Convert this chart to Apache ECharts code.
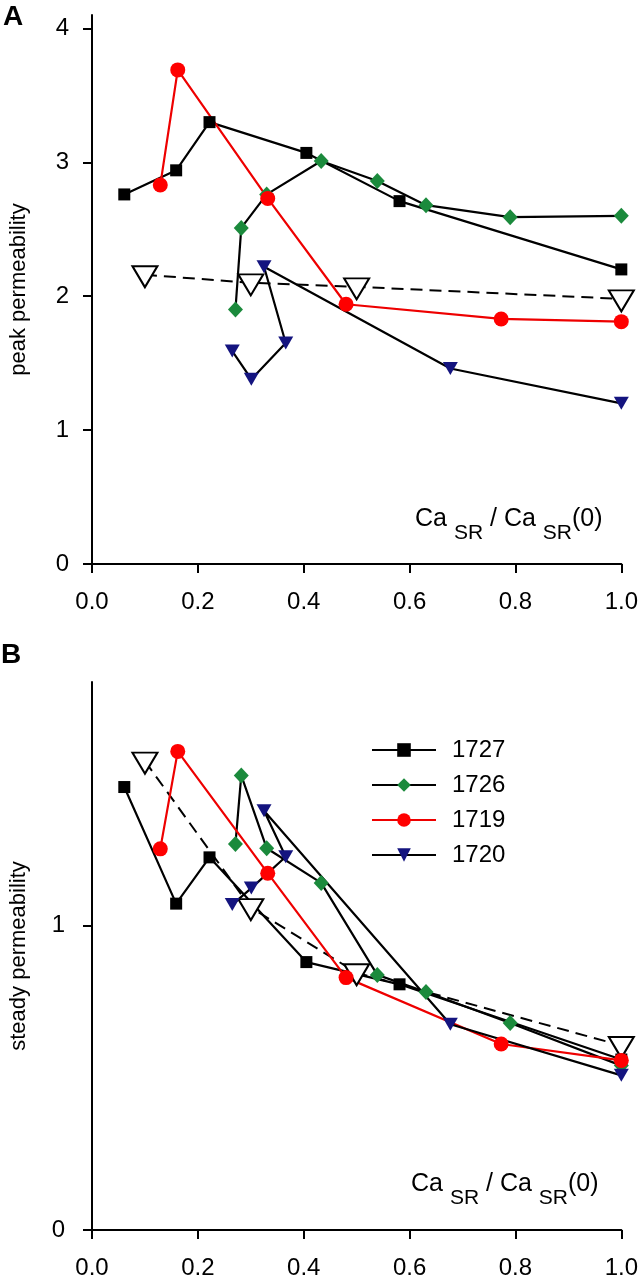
<!DOCTYPE html>
<html><head><meta charset="utf-8">
<script src="https://cdn.jsdelivr.net/npm/echarts@6/dist/echarts.min.js"></script>
<style>html,body{margin:0;padding:0;background:#fff}#c{width:641px;height:1280px}</style>
</head><body><div id="c"></div><script>
// ---- data ----
const xTickLabels = ['0.0','0.2','0.4','0.6','0.8','1.0'];
const yTicksA = [0, 1, 2, 3, 4];
const yTicksB = [0, 1];
const legendNames = ['1727', '1726', '1719', '1720'];
const meanName = 'mean';
// x = Ca_SR / Ca_SR(0)
const x1727 = [0.061, 0.159, 0.222, 0.405, 0.581, 1.0];
const x1726 = [0.271, 0.282, 0.330, 0.433, 0.539, 0.631, 0.790, 1.0];
const x1719 = [0.129, 0.162, 0.332, 0.480, 0.773, 1.0];
const x1720 = [0.265, 0.301, 0.366, 0.325, 0.677, 1.0];
const xMean = [0.1, 0.3, 0.5, 1.0];
// panel A: peak permeability
const peak1727 = [2.76, 2.94, 3.30, 3.07, 2.71, 2.20];
const peak1726 = [1.90, 2.51, 2.76, 3.01, 2.86, 2.68, 2.59, 2.60];
const peak1719 = [2.83, 3.69, 2.73, 1.94, 1.83, 1.81];
const peak1720 = [1.59, 1.38, 1.65, 2.22, 1.46, 1.20];
const peakMean = [2.16, 2.10, 2.07, 1.98];
// panel B: steady permeability
const steady1727 = [1.455, 1.072, 1.224, 0.880, 0.807, 0.560];
const steady1726 = [1.268, 1.493, 1.254, 1.140, 0.838, 0.782, 0.680, 0.540];
const steady1719 = [1.252, 1.572, 1.172, 0.829, 0.611, 0.557];
const steady1720 = [1.069, 1.123, 1.226, 1.377, 0.676, 0.508];
const steadyMean = [1.540, 1.059, 0.845, 0.606];

// ---- styles ----
const FONT = 'Liberation Sans, Arial, sans-serif';
const styles = {
  '1727': {symbol: 'rect', size: 12, color: '#000000', line: '#000000', rotate: 0},
  '1726': {symbol: 'diamond', size: [15, 16], color: '#1b8a3c', line: '#000000', rotate: 0},
  '1719': {symbol: 'circle', size: 15, color: '#ff0000', line: '#ee0000', rotate: 0},
  '1720': {symbol: 'triangle', size: [15, 13], color: '#14147f', line: '#000000', rotate: 180}
};
function pairs(xs, ys) { return xs.map((x, i) => [x, ys[i]]); }
function mk(name, xs, ys, gi) {
  const s = styles[name];
  return {
    name: name, type: 'line', xAxisIndex: gi, yAxisIndex: gi,
    data: pairs(xs, ys), clip: false,
    symbol: s.symbol, symbolSize: s.size, symbolRotate: s.rotate, showSymbol: true,
    lineStyle: {color: s.line, width: 2.2},
    itemStyle: {color: s.color, borderWidth: 0},
    emphasis: {disabled: true}, animation: false
  };
}
function mkMean(xs, ys, gi) {
  return {
    name: meanName, type: 'line', xAxisIndex: gi, yAxisIndex: gi,
    data: pairs(xs, ys), clip: false,
    symbol: 'triangle', symbolRotate: 180, symbolSize: [25, 21], symbolOffset: [0, 2],
    lineStyle: {color: '#000', width: 2, type: [12, 7]},
    itemStyle: {color: '#ffffff', borderColor: '#000000', borderWidth: 2},
    emphasis: {disabled: true}, animation: false
  };
}
function xAxis(gi) {
  return {
    type: 'value', gridIndex: gi, min: 0, max: 1, interval: 0.2,
    axisLine: {show: true, lineStyle: {color: '#000', width: 2}},
    axisTick: {show: true, length: 9, lineStyle: {color: '#000', width: 2}},
    axisLabel: {margin: 26, fontSize: 24, color: '#000', fontFamily: FONT,
      formatter: v => xTickLabels[Math.round(v / 0.2)]},
    splitLine: {show: false}
  };
}
function yAxis(gi, max, ticks, name, margin) {
  return {
    type: 'value', gridIndex: gi, min: 0, max: max, interval: 1,
    name: name, nameLocation: 'middle', nameGap: 62,
    nameTextStyle: {fontSize: 22, color: '#000', fontFamily: FONT},
    axisLine: {show: true, onZero: false, lineStyle: {color: '#000', width: 2}},
    axisTick: {show: true, length: 9, customValues: ticks, lineStyle: {color: '#000', width: 2}},
    axisLabel: {margin: margin, fontSize: 24, color: '#000', fontFamily: FONT, customValues: ticks},
    splitLine: {show: false}
  };
}
function caLabel(left, top) {
  return {
    type: 'text', left: left, top: top, silent: true,
    style: {
      text: '{b|Ca }{s|SR}{b| / Ca }{s|SR}{b|(0)}',
      rich: {
        b: {fontSize: 25, fontFamily: FONT, fill: '#000', lineHeight: 28, verticalAlign: 'top'},
        s: {fontSize: 21, fontFamily: FONT, fill: '#000', lineHeight: 37, verticalAlign: 'bottom'}
      }
    }
  };
}

const chart = echarts.init(document.getElementById('c'), null, {renderer: 'canvas'});
chart.setOption({
  animation: false,
  backgroundColor: '#ffffff',
  grid: [
    {left: 89, right: 17, top: 15, bottom: 716, containLabel: false},
    {left: 86, right: 19, top: 682, bottom: 48, containLabel: false}
  ],
  xAxis: [xAxis(0), xAxis(1)],
  yAxis: [yAxis(0, 4.1, yTicksA, 'peak permeability', 23), yAxis(1, 1.8, yTicksB, 'steady permeability', 27)],
  legend: {
    data: legendNames, orient: 'vertical', left: 371, top: 738, padding: 0,
    itemWidth: 64, itemHeight: 17, itemGap: 11,
    textStyle: {fontSize: 24, color: '#000', fontFamily: FONT, padding: [0, 0, 0, 11], lineHeight: 24},
    selectedMode: false
  },
  graphic: [
    {type: 'text', left: 3, top: 3, style: {text: 'A', fontSize: 28, fontWeight: 'bold', fontFamily: FONT, fill: '#000'}},
    {type: 'text', left: 1, top: 641, style: {text: 'B', fontSize: 28, fontWeight: 'bold', fontFamily: FONT, fill: '#000'}},
    caLabel(415, 507),
    caLabel(411, 1172)
  ],
  series: [
    mkMean(xMean, peakMean, 0),
    mk('1727', x1727, peak1727, 0),
    mk('1726', x1726, peak1726, 0),
    mk('1719', x1719, peak1719, 0),
    mk('1720', x1720, peak1720, 0),
    mkMean(xMean, steadyMean, 1),
    mk('1727', x1727, steady1727, 1),
    mk('1726', x1726, steady1726, 1),
    mk('1719', x1719, steady1719, 1),
    mk('1720', x1720, steady1720, 1)
  ]
});
</script></body></html>
